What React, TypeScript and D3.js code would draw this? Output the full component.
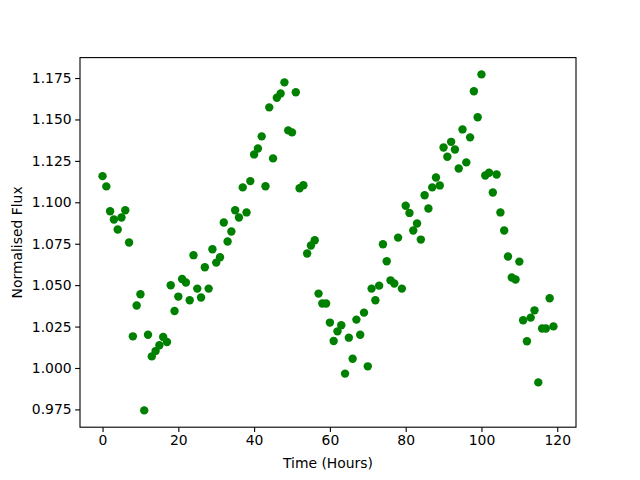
import React, { useRef, useEffect } from "react";
import * as d3 from "d3";

// hours 0..119, one reading per hour
const hours: number[] = Array.from({ length: 120 }, (_, i) => i);

const flux: number[] = [
  1.1158, 1.1096, 1.0946, 1.0896, 1.0836, 1.0908, 1.0952, 1.0757, 1.0191, 1.0377,
  1.0445, 0.9744, 1.0201, 1.0070, 1.0102, 1.0137, 1.0187, 1.0157, 1.0499, 1.0344,
  1.0431, 1.0537, 1.0516, 1.0409, 1.0681, 1.0479, 1.0425, 1.0608, 1.0479, 1.0717,
  1.0636, 1.0668, 1.0878, 1.0763, 1.0824, 1.0952, 1.0908, 1.1090, 1.0939, 1.1128,
  1.1289, 1.1325, 1.1398, 1.1097, 1.1573, 1.1265, 1.1631, 1.1657, 1.1724, 1.1434,
  1.1422, 1.1664, 1.1085, 1.1103, 1.0691, 1.0739, 1.0771, 1.0449, 1.0389, 1.0389,
  1.0274, 1.0163, 1.0221, 1.0258, 0.9966, 1.0183, 1.0056, 1.0292, 1.0201, 1.0334,
  1.0010, 1.0479, 1.0409, 1.0497, 1.0747, 1.0644, 1.0529, 1.0510, 1.0787, 1.0479,
  1.0979, 1.0936, 1.0830, 1.0872, 1.0775, 1.1043, 1.0963, 1.1090, 1.1150, 1.1102,
  1.1331, 1.1275, 1.1365, 1.1319, 1.1204, 1.1440, 1.1241, 1.1392, 1.1670, 1.1513,
  1.1772, 1.1162, 1.1178, 1.1059, 1.1168, 1.0939, 1.0830, 1.0673, 1.0546, 1.0534,
  1.0642, 1.0288, 1.0161, 1.0304, 1.0348, 0.9913, 1.0238, 1.0238, 1.0421, 1.0251,
];

const xTicks: number[] = [0, 20, 40, 60, 80, 100, 120];
const yTicks: number[] = [0.975, 1.0, 1.025, 1.05, 1.075, 1.1, 1.125, 1.15, 1.175];

const xLabel = "Time (Hours)";
const yLabel = "Normalised Flux";

const App = () => {
  const svgRef = useRef<SVGSVGElement>(null);

  useEffect(() => {
    const width = 640;
    const height = 480;
    const margin = { top: 57.6, right: 64, bottom: 52.8, left: 80 };

    const svg = d3.select(svgRef.current);
    svg.selectAll("*").remove();
    svg.attr("viewBox", `0 0 ${width} ${height}`);

    const innerWidth = width - margin.left - margin.right;
    const innerHeight = height - margin.top - margin.bottom;

    // matplotlib style 5% padding
    const [x0, x1] = d3.extent(hours) as [number, number];
    const [y0, y1] = d3.extent(flux) as [number, number];
    const xPad = (x1 - x0) * 0.05;
    const yPad = (y1 - y0) * 0.05;

    const xScale = d3.scaleLinear()
      .domain([x0 - xPad, x1 + xPad])
      .range([0, innerWidth]);

    const yScale = d3.scaleLinear()
      .domain([y0 - yPad, y1 + yPad])
      .range([innerHeight, 0]);

    svg.append("rect")
      .attr("width", width)
      .attr("height", height)
      .attr("fill", "white");

    const g = svg.append("g")
      .attr("transform", `translate(${margin.left}, ${margin.top})`);

    const font = "DejaVu Sans, sans-serif";

    // points
    g.selectAll(".dot")
      .data(hours)
      .enter()
      .append("circle")
      .attr("class", "dot")
      .attr("cx", (d) => xScale(d))
      .attr("cy", (d, i) => yScale(flux[i]))
      .attr("r", 4.2)
      .attr("fill", "#008000");

    // axes
    const xAxis = g.append("g")
      .attr("transform", `translate(0, ${innerHeight})`)
      .call(
        d3.axisBottom(xScale)
          .tickValues(xTicks)
          .tickSize(4.86)
          .tickPadding(3.5)
          .tickFormat(d3.format("d"))
      );

    const yAxis = g.append("g")
      .call(
        d3.axisLeft(yScale)
          .tickValues(yTicks)
          .tickSize(4.86)
          .tickPadding(3.5)
          .tickFormat(d3.format(".3f"))
      );

    [xAxis, yAxis].forEach((ax) => {
      ax.select(".domain").remove();
      ax.selectAll("line").attr("stroke", "black").attr("stroke-width", 1.1);
      ax.selectAll("text")
        .attr("fill", "black")
        .style("font-family", font)
        .style("font-size", "13.9px");
    });

    // spines
    g.append("rect")
      .attr("width", innerWidth)
      .attr("height", innerHeight)
      .attr("fill", "none")
      .attr("stroke", "black")
      .attr("stroke-width", 1.1);

    svg.append("text")
      .attr("x", margin.left + innerWidth / 2)
      .attr("y", 468)
      .attr("text-anchor", "middle")
      .style("font-family", font)
      .style("font-size", "13.9px")
      .text(xLabel);

    svg.append("text")
      .attr("transform", `translate(22, ${margin.top + innerHeight / 2}) rotate(-90)`)
      .attr("text-anchor", "middle")
      .style("font-family", font)
      .style("font-size", "13.9px")
      .text(yLabel);
  }, []);

  return (
    <svg
      ref={svgRef}
      width={640}
      height={480}
      style={{ position: "absolute", left: 0, top: 0 }}
    ></svg>
  );
};

export default App;
